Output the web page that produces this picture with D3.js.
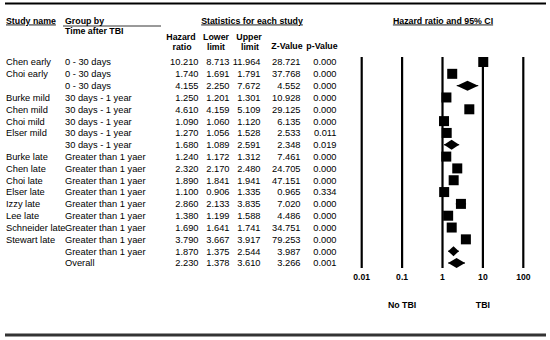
<!DOCTYPE html>
<html>
<head>
<meta charset="utf-8">
<script src="https://cdn.jsdelivr.net/npm/d3@7"></script>
<style>
body { margin: 0; background: #fff; }
text { font-family: "Liberation Sans", Arial, sans-serif; fill: #000; }
.hd { font-weight: bold; font-size: 8.8px; }
.cell { font-size: 9.3px; }
.tick { font-weight: bold; font-size: 8.6px; }
</style>
</head>
<body>
<div id="chart"></div>
<script>
// rows of the table, blank study name = subgroup summary
var studies = ["Chen early", "Choi early", "", "Burke mild", "Chen mild", "Choi mild", "Elser mild", "",
    "Burke late", "Chen late", "Choi late", "Elser late", "Izzy late", "Lee late", "Schneider late", "Stewart late", "", ""];
var groups = ["0 - 30 days", "0 - 30 days", "0 - 30 days",
    "30 days - 1 year", "30 days - 1 year", "30 days - 1 year", "30 days - 1 year", "30 days - 1 year",
    "Greater than 1 yaer", "Greater than 1 yaer", "Greater than 1 yaer", "Greater than 1 yaer", "Greater than 1 yaer",
    "Greater than 1 yaer", "Greater than 1 yaer", "Greater than 1 yaer", "Greater than 1 yaer", "Overall"];
var hr    = [10.210, 1.740, 4.155, 1.250, 4.610, 1.090, 1.270, 1.680, 1.240, 2.320, 1.890, 1.100, 2.860, 1.380, 1.690, 3.790, 1.870, 2.230];
var lower = [8.713, 1.691, 2.250, 1.201, 4.159, 1.060, 1.056, 1.089, 1.172, 2.170, 1.841, 0.906, 2.133, 1.199, 1.641, 3.667, 1.375, 1.378];
var upper = [11.964, 1.791, 7.672, 1.301, 5.109, 1.120, 1.528, 2.591, 1.312, 2.480, 1.941, 1.335, 3.835, 1.588, 1.741, 3.917, 2.544, 3.610];
var zval  = [28.721, 37.768, 4.552, 10.928, 29.125, 6.135, 2.533, 2.348, 7.461, 24.705, 47.151, 0.965, 7.020, 4.486, 34.751, 79.253, 3.987, 3.266];
var pval  = [0.000, 0.000, 0.000, 0.000, 0.000, 0.000, 0.011, 0.019, 0.000, 0.000, 0.000, 0.334, 0.000, 0.000, 0.000, 0.000, 0.000, 0.001];
var summary = [2, 7, 16, 17];
var axisTicks = [0.01, 0.1, 1, 10, 100];

var width = 550, height = 340;

const svg = d3.select("#chart")
    .append("svg")
    .attr("width", width)
    .attr("height", height);

var rows = d3.range(studies.length);
var yscale = d3.scalePoint().domain(rows).range([62, 263]);
var xscale = d3.scaleLog().domain([0.01, 100]).range([361.7, 523.3]);

// frame lines
svg.append("line").attr("x1", 5).attr("x2", 546).attr("y1", 3.5).attr("y2", 3.5)
    .attr("stroke", "#000").attr("stroke-width", 2);
svg.append("line").attr("x1", 5).attr("x2", 546).attr("y1", 335).attr("y2", 335)
    .attr("stroke", "#333").attr("stroke-width", 3);

// headers
function header(txt, x, y, anchor, underline) {
    var t = svg.append("text").attr("class", "hd").attr("x", x).attr("y", y)
        .attr("text-anchor", anchor || "start").text(txt);
    if (underline) t.attr("text-decoration", "underline");
    return t;
}
header("Study name", 6, 23.5, "start", true);
header("Group by", 65, 23.5, "start");
svg.append("line").attr("x1", 63).attr("x2", 161).attr("y1", 26).attr("y2", 26)
    .attr("stroke", "#000").attr("stroke-width", 0.8);
header("Time after TBI", 65, 34, "start");
header("Statistics for each study", 252, 23.5, "middle", true);
header("Hazard ratio and 95% CI", 443, 23.5, "middle", true);
header("Hazard", 181, 39.5, "middle");
header("ratio", 182, 50, "middle");
header("Lower", 216, 39.5, "middle");
header("limit", 216, 50, "middle");
header("Upper", 249, 39.5, "middle");
header("limit", 250, 50, "middle");
header("Z-Value", 287, 49, "middle");
header("p-Value", 322, 49, "middle");

// table cells
var cols = [
    {vals: studies, x: 6, anchor: "start", fmt: d => d},
    {vals: groups, x: 65, anchor: "start", fmt: d => d},
    {vals: hr, x: 198.5, anchor: "end", fmt: d3.format(".3f")},
    {vals: lower, x: 229.5, anchor: "end", fmt: d3.format(".3f")},
    {vals: upper, x: 260.5, anchor: "end", fmt: d3.format(".3f")},
    {vals: zval, x: 300.5, anchor: "end", fmt: d3.format(".3f")},
    {vals: pval, x: 336.5, anchor: "end", fmt: d3.format(".3f")}
];
cols.forEach(function(c) {
    svg.append("g").selectAll("text")
        .data(rows)
        .join("text")
        .attr("class", "cell")
        .attr("x", c.x)
        .attr("y", d => yscale(d) + 3.4)
        .attr("text-anchor", c.anchor)
        .text(d => c.fmt(c.vals[d]));
});

// forest plot reference lines
var plotTop = 57, plotBottom = 268;
svg.append("g").selectAll("line")
    .data(axisTicks)
    .join("line")
    .attr("x1", d => xscale(d)).attr("x2", d => xscale(d))
    .attr("y1", plotTop).attr("y2", plotBottom)
    .attr("stroke", "#000").attr("stroke-width", 2.2);

svg.append("g").selectAll("text")
    .data(axisTicks)
    .join("text")
    .attr("class", "tick")
    .attr("x", d => xscale(d))
    .attr("y", 280)
    .attr("text-anchor", "middle")
    .text(d => d3.format("~g")(d));

header("No TBI", xscale(0.1), 307.5, "middle");
header("TBI", xscale(10), 307.5, "middle");

// CI lines
svg.append("g").selectAll("line")
    .data(rows)
    .join("line")
    .attr("x1", d => xscale(lower[d])).attr("x2", d => xscale(upper[d]))
    .attr("y1", d => yscale(d)).attr("y2", d => yscale(d))
    .attr("stroke", "#000").attr("stroke-width", 1);

// study squares
var sq = 10;
svg.append("g").selectAll("rect")
    .data(rows.filter(d => summary.indexOf(d) < 0))
    .join("rect")
    .attr("x", d => xscale(hr[d]) - sq / 2)
    .attr("y", d => yscale(d) - sq / 2)
    .attr("width", sq).attr("height", sq)
    .attr("fill", "#000");

// summary diamonds
svg.append("g").selectAll("path")
    .data(summary)
    .join("path")
    .attr("d", function(d) {
        var y = yscale(d), h = 5;
        return "M" + xscale(lower[d]) + "," + y +
            "L" + xscale(hr[d]) + "," + (y - h) +
            "L" + xscale(upper[d]) + "," + y +
            "L" + xscale(hr[d]) + "," + (y + h) + "Z";
    })
    .attr("fill", "#000");
</script>
</body>
</html>
